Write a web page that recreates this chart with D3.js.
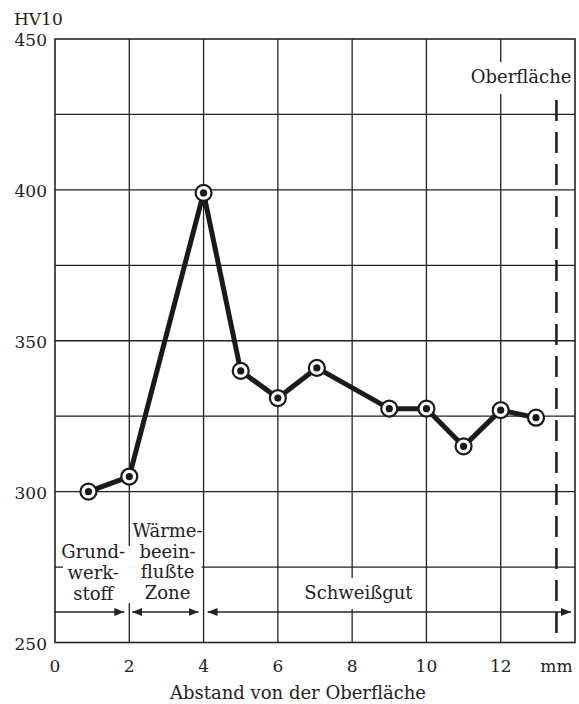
<!DOCTYPE html>
<html>
<head>
<meta charset="utf-8">
<script src="https://cdn.jsdelivr.net/npm/d3@7"></script>
<style>
  body { margin: 0; background: #fff; }
  svg { display: block; }
  text { font-family: "DejaVu Serif", serif; fill: #222; }
</style>
</head>
<body>
<svg width="579" height="704"></svg>
<script>
// HV10 Härteverlauf über den Abstand von der Oberfläche
var distance = [0.9, 2, 4, 5, 6, 7.05, 9, 10, 11, 12, 12.95];
var hardness = [300, 305, 399, 340, 331, 341, 327.5, 327.5, 315, 327, 324.5];

var xTicks = [0, 2, 4, 6, 8, 10, 12];
var yTicks = [250, 300, 350, 400, 450];
var yGrid  = [275, 300, 325, 350, 375, 400, 425];

var zoneNames  = [["Grund-", "werk-", "stoff"], ["Wärme-", "beein-", "flußte", "Zone"], ["Schweißgut"]];
var zoneBounds = [[0, 2], [2, 4], [4, 14]];
var surfaceAt  = 13.5;

var svg = d3.select("svg");

var x = d3.scaleLinear().domain([0, 14]).range([55, 575]),
    y = d3.scaleLinear().domain([250, 450]).range([642.5, 39]);

var ink = "#222";

var defs = svg.append("defs");
defs.append("marker")
    .attr("id", "head")
    .attr("viewBox", "0 0 10 8")
    .attr("refX", 10).attr("refY", 4)
    .attr("markerWidth", 10).attr("markerHeight", 8)
    .attr("markerUnits", "userSpaceOnUse")
    .attr("orient", "auto-start-reverse")
    .append("path")
    .attr("d", "M0,0L10,4L0,8Z")
    .attr("fill", ink);

var grid = svg.append("g").attr("stroke", ink).attr("stroke-width", 1.3);

grid.selectAll(".h")
    .data(yGrid)
    .enter().append("line")
    .attr("x1", x(0)).attr("x2", x(14))
    .attr("y1", function(d) { return y(d); })
    .attr("y2", function(d) { return y(d); });

grid.selectAll(".v")
    .data(xTicks.slice(1))
    .enter().append("line")
    .attr("x1", function(d) { return x(d); })
    .attr("x2", function(d) { return x(d); })
    .attr("y1", y(450)).attr("y2", y(250));

grid.append("rect")
    .attr("x", x(0)).attr("y", y(450))
    .attr("width", x(14) - x(0)).attr("height", y(250) - y(450))
    .attr("fill", "none")
    .attr("stroke-width", 1.6);

// white boxes behind the zone labels
var boxes = svg.append("g").attr("fill", "#fff");
boxes.append("rect").attr("x", x(0) + 8).attr("y", 546).attr("width", x(2) - x(0) - 5).attr("height", 57);
boxes.append("rect").attr("x", x(2) + 3).attr("y", 518).attr("width", x(4) - x(2) - 5).attr("height", 85);
boxes.append("rect").attr("x", x(8.17) - 54).attr("y", 578).attr("width", 108).attr("height", 31);
boxes.append("rect").attr("x", x(12.55) - 52).attr("y", 62).attr("width", 102).attr("height", 32);

// surface line
svg.append("line")
    .attr("x1", x(surfaceAt)).attr("x2", x(surfaceAt))
    .attr("y1", 100).attr("y2", y(250))
    .attr("stroke", ink)
    .attr("stroke-width", 2.6)
    .attr("stroke-dasharray", "21,11");

// zone arrows
var arrows = svg.append("g").attr("stroke", ink).attr("stroke-width", 1.6);
arrows.append("line")
    .attr("x1", x(zoneBounds[0][0])).attr("x2", x(zoneBounds[0][1]) - 5)
    .attr("y1", 612).attr("y2", 612)
    .attr("marker-end", "url(#head)");
arrows.append("line")
    .attr("x1", x(zoneBounds[1][0]) + 3).attr("x2", x(zoneBounds[1][1]) - 5)
    .attr("y1", 612).attr("y2", 612)
    .attr("marker-start", "url(#head)")
    .attr("marker-end", "url(#head)");
arrows.append("line")
    .attr("x1", x(zoneBounds[2][0]) + 4).attr("x2", x(zoneBounds[2][1]) - 4)
    .attr("y1", 612).attr("y2", 612)
    .attr("marker-start", "url(#head)")
    .attr("marker-end", "url(#head)");

// zone labels
svg.append("text")
    .attr("text-anchor", "middle").attr("font-size", 18)
    .selectAll("tspan")
    .data(zoneNames[0])
    .enter().append("tspan")
    .attr("x", x(1.03))
    .attr("y", function(d, i) { return 558 + i * 21; })
    .text(function(d) { return d; });

svg.append("text")
    .attr("text-anchor", "middle").attr("font-size", 18)
    .selectAll("tspan")
    .data(zoneNames[1])
    .enter().append("tspan")
    .attr("x", x(3.03))
    .attr("y", function(d, i) { return 537 + i * 20.7; })
    .text(function(d) { return d; });

svg.append("text")
    .attr("text-anchor", "middle").attr("font-size", 18)
    .attr("x", x(8.17)).attr("y", 599)
    .text(zoneNames[2][0]);

svg.append("text")
    .attr("text-anchor", "middle").attr("font-size", 18)
    .attr("x", x(12.55)).attr("y", 83)
    .text("Oberfläche");

// hardness curve
var pts = distance.map(function(d, i) { return [d, hardness[i]]; });

svg.append("path")
    .datum(pts)
    .attr("fill", "none")
    .attr("stroke", "#1a1a1a")
    .attr("stroke-width", 5)
    .attr("stroke-linejoin", "round")
    .attr("d", d3.line()
        .x(function(d) { return x(d[0]); })
        .y(function(d) { return y(d[1]); }));

var marks = svg.append("g").selectAll("g")
    .data(pts)
    .enter().append("g")
    .attr("transform", function(d) { return "translate(" + x(d[0]) + "," + y(d[1]) + ")"; });
marks.append("circle").attr("r", 8).attr("fill", "#fff").attr("stroke", "#1a1a1a").attr("stroke-width", 2.2);
marks.append("circle").attr("r", 3.6).attr("fill", "#1a1a1a");

// axis labels
svg.append("g")
    .selectAll("text")
    .data(yTicks)
    .enter().append("text")
    .attr("text-anchor", "end")
    .attr("font-size", 17)
    .attr("x", 47)
    .attr("y", function(d) { return y(d) + 7; })
    .text(function(d) { return d; });

svg.append("g")
    .selectAll("text")
    .data(xTicks)
    .enter().append("text")
    .attr("text-anchor", "middle")
    .attr("font-size", 17)
    .attr("x", function(d) { return x(d); })
    .attr("y", 672)
    .text(function(d) { return d; });

svg.append("text")
    .attr("text-anchor", "middle").attr("font-size", 17)
    .attr("x", x(surfaceAt)).attr("y", 672)
    .text("mm");

svg.append("text")
    .attr("font-size", 17)
    .attr("x", 14).attr("y", 25)
    .text("HV10");

svg.append("text")
    .attr("text-anchor", "middle").attr("font-size", 18)
    .attr("x", 298).attr("y", 699)
    .text("Abstand von der Oberfläche");
</script>
</body>
</html>
